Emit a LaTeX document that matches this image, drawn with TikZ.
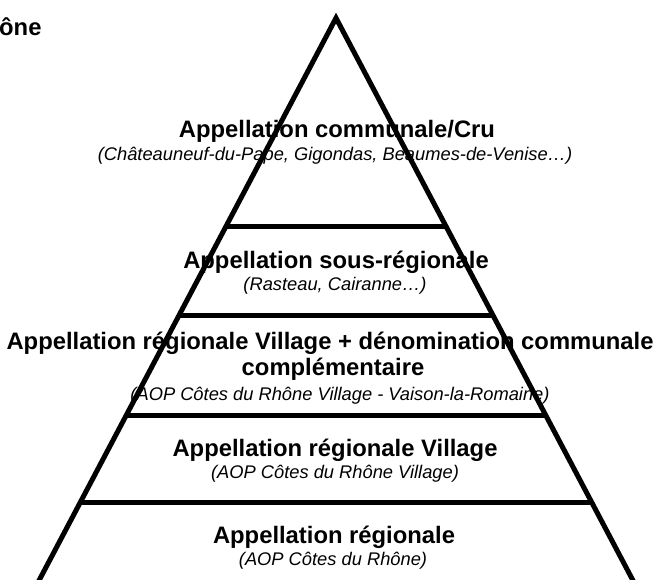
\documentclass[tikz,border=0pt]{standalone}
\usepackage{fontspec}
\setmainfont{Liberation Sans}
\begin{document}
\begin{tikzpicture}[x=1pt,y=-1pt,
  edge/.style={line width=5pt,line join=miter},
  tier/.style={line width=5pt},
  title/.style={font=\fontsize{23.8}{28}\selectfont\bfseries,inner sep=0pt,align=center},
  sub/.style={font=\fontsize{18.3}{21}\selectfont\itshape,inner sep=0pt}]
\useasboundingbox[fill=white] (0,0) rectangle (660,579);
% pyramid outline
\coordinate (apex) at (336,18);
\coordinate (bl) at (34,590);
\coordinate (br) at (638,590);
\draw[edge] (bl) -- (apex) -- (br);
% tier separators
\draw[tier] (226.2,226) -- (445.8,226);
\draw[tier] (179.2,315) -- (492.8,315);
\draw[tier] (126.4,415) -- (545.6,415);
\draw[tier] (80.4,502) -- (591.6,502);
% clipped heading
\node[title,anchor=west] (head) at (-1,27) {ône};
% texts
\node[title] (t1) at (337,131) {Appellation communale/Cru};
\node[sub] (s1) at (335,156) {(Châteauneuf-du-Pape, Gigondas, Beaumes-de-Venise…)};
\node[title] (t2) at (336,262) {Appellation sous-régionale};
\node[sub] (s2) at (335,286) {(Rasteau, Cairanne…)};
\node[title] (t3) at (330,343) {Appellation régionale Village + dénomination communale};
\node[title] (t3b) at (333,369) {complémentaire};
\node[sub] (s3) at (340,396) {(AOP Côtes du Rhône Village - Vaison-la-Romaine)};
\node[title] (t4) at (335,450) {Appellation régionale Village};
\node[sub] (s4) at (335,474) {(AOP Côtes du Rhône Village)};
\node[title] (t5) at (334,537) {Appellation régionale};
\node[sub] (s5) at (333,561) {(AOP Côtes du Rhône)};
\end{tikzpicture}
\end{document}
